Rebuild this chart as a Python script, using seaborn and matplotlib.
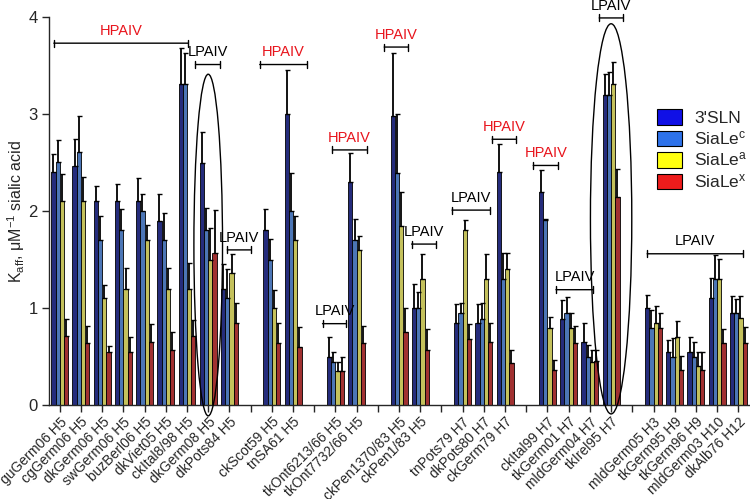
import numpy as np
import pandas as pd
import matplotlib
matplotlib.use("Agg")
import matplotlib.pyplot as plt
from matplotlib.patches import Ellipse, Patch
import seaborn as sns

# ---------------- data ----------------
strains = ["guGerm06 H5", "cgGerm06 H5", "dkGerm06 H5", "swGerm06 H5", "buzBerl06 H5",
           "dkViet05 H5", "ckItal8/98 H5", "dkGerm08 H5", "dkPots84 H5", "",
           "ckScot59 H5", "tnSA61 H5", "", "tkOnt6213/66 H5", "tkOnt7732/66 H5", "",
           "ckPen1370/83 H5", "ckPen1/83 H5", "", "tnPots79 H7", "dkPots80 H7", "ckGerm79 H7", "",
           "ckItal99 H7", "tkGerm01 H7", "mldGerm04 H7", "tkIrel95 H7", "",
           "mldGerm05 H3", "tkGerm95 H9", "tkGerm96 H9", "mldGerm03 H10", "dkAlb76 H12"]

glycans = ["3'SLN", "SiaLe$^{\\mathrm{c}}$", "SiaLe$^{\\mathrm{a}}$", "SiaLe$^{\\mathrm{x}}$"]

# mean values (None for spacer positions)
sln3 = [2.40, 2.46, 2.10, 2.10, 2.10, 1.90, 3.31, 2.50, 1.20, None,
        1.80, 3.00, None, 0.50, 2.30, None, 2.98, 1.00, None, 0.85, 0.85, 2.40, None,
        2.20, 0.89, 0.65, 3.20, None, 1.00, 0.55, 0.55, 1.10, 0.95]
sialec = [2.51, 2.61, 1.70, 1.80, 2.00, 1.70, 3.31, 1.80, 1.10, None,
          1.50, 2.00, None, 0.45, 1.70, None, 2.39, 1.00, None, 0.95, 0.89, 1.30, None,
          1.91, 0.95, 0.50, 3.20, None, 0.80, 0.50, 0.50, 1.30, 0.95]
sialea = [2.10, 2.10, 1.10, 1.20, 1.70, 1.20, 1.20, 1.50, 1.36, None,
          1.00, 1.70, None, 0.35, 1.60, None, 1.85, 1.30, None, 1.80, 1.30, 1.40, None,
          0.80, 0.80, 0.45, 3.31, None, 0.85, 0.70, 0.40, 1.30, 0.90]
sialex = [0.71, 0.64, 0.55, 0.55, 0.65, 0.57, 0.71, 1.57, 0.85, None,
          0.64, 0.60, None, 0.35, 0.64, None, 0.75, 0.57, None, 0.68, 0.65, 0.43, None,
          0.36, 0.64, 0.46, 2.14, None, 0.80, 0.36, 0.36, 0.64, 0.64]

# upper ends of the error bars
sln3_hi = [2.59, 2.74, 2.26, 2.28, 2.34, 2.18, 3.68, 2.81, 1.45, None,
           2.02, 3.45, None, 0.70, 2.60, None, 3.63, 1.25, None, 1.04, 1.04, 2.69, None,
           2.42, 1.08, 0.85, 3.41, None, 1.14, 0.67, 0.70, 1.31, 1.12]
sialec_hi = [2.73, 2.98, 1.95, 2.02, 2.18, 1.98, 3.63, 2.03, 1.40, None,
             1.71, 2.39, None, 0.55, 1.92, None, 3.00, 1.17, None, 1.05, 1.05, 1.57, None,
             1.92, 1.11, 0.62, 3.43, None, 0.98, 0.69, 0.65, 1.55, 1.09]
sialea_hi = [2.38, 2.35, 1.24, 1.41, 1.86, 1.41, 1.46, 1.83, 1.56, None,
             1.19, 1.95, None, 0.45, 1.74, None, 2.20, 1.56, None, 1.91, 1.56, 1.57, None,
             0.91, 0.95, 0.57, 3.54, None, 1.02, 0.87, 0.55, 1.51, 1.13]
sialex_hi = [0.89, 0.82, 0.61, 0.70, 0.84, 0.75, 0.88, 2.01, 1.05, None,
             0.85, 0.81, None, 0.50, 0.82, None, 1.00, 0.78, None, 0.84, 0.85, 0.57, None,
             0.47, 0.82, 0.57, 2.43, None, 0.95, 0.51, 0.55, 0.78, 0.81]

# pathotype brackets: (label, start, end, height)
brackets = [("HPAIV", -0.28, 6.04, 3.73), ("LPAIV", 6.40, 7.55, 3.51),
            ("LPAIV", 7.90, 9.00, 1.60), ("HPAIV", 9.43, 11.67, 3.51),
            ("LPAIV", 12.39, 13.52, 0.84), ("HPAIV", 12.86, 14.47, 2.63),
            ("HPAIV", 15.30, 16.43, 3.69), ("LPAIV", 16.59, 17.74, 1.66),
            ("LPAIV", 18.50, 20.30, 2.01), ("HPAIV", 20.39, 21.50, 2.74),
            ("HPAIV", 22.33, 23.50, 2.47), ("LPAIV", 23.40, 25.16, 1.19),
            ("LPAIV", 25.44, 26.57, 3.99), ("LPAIV", 27.70, 32.23, 1.56)]
# highlight ellipses: (x centre, y centre, width, height)
ellipses = [(7.0, 1.65, 1.35, 3.52), (26.0, 1.92, 1.95, 4.02)]

bar_colors = ["#16208a", "#3a72c8", "#d6d24a", "#b41e1e"]
legend_colors = ["#1010e6", "#2e72ea", "#ffff10", "#ee1c1c"]

# ---------------- table ----------------
order = [s if s else " " * (i + 1) for i, s in enumerate(strains)]
rows = []
for g, vals, his in zip(glycans, [sln3, sialec, sialea, sialex],
                        [sln3_hi, sialec_hi, sialea_hi, sialex_hi]):
    for cat, v, h in zip(order, vals, his):
        if v is not None:
            rows.append({"strain": cat, "glycan": g, "value": v, "hi": h})
df = pd.DataFrame(rows)
hi_lookup = {(r.strain, r.glycan): r.hi for r in df.itertuples()}

# ---------------- plot ----------------
sns.set_style("ticks")
plt.rcParams["font.family"] = ["Liberation Sans", "DejaVu Sans"]
plt.rcParams["mathtext.fontset"] = "custom"
plt.rcParams["mathtext.rm"] = "Liberation Sans"
plt.rcParams["mathtext.it"] = "Liberation Sans:italic"

fig = plt.figure(figsize=(7.5, 4.99), dpi=100)
ax = fig.add_axes([0.065, 0.188, 0.935, 0.778])

sns.barplot(data=df, x="strain", y="value", hue="glycan", order=order,
            hue_order=glycans, palette=bar_colors, errorbar=None, width=0.8,
            edgecolor="black", linewidth=0.6, ax=ax, legend=False)

# error bars (upward only)
bar_containers = list(ax.containers)
for gi, cont in enumerate(bar_containers):
    g = glycans[gi]
    for bar in cont:
        xc = bar.get_x() + bar.get_width() / 2
        cat = order[int(round(xc))]
        top = bar.get_height()
        hi = hi_lookup[(cat, g)]
        ax.errorbar(xc, top, yerr=[[0], [hi - top]], fmt="none", ecolor="black",
                    elinewidth=1.3, capsize=1.8, capthick=1.0, zorder=3)

# brackets
for lab, x0, x1, y in brackets:
    col = "#e8141c" if lab == "HPAIV" else "black"
    ax.annotate("", xy=(x0, y), xytext=(x1, y), annotation_clip=False,
                arrowprops=dict(arrowstyle="|-|, widthA=0.25, widthB=0.25",
                                color="black", lw=1.0, shrinkA=0, shrinkB=0))
    ax.text((x0 + x1) / 2, y + 0.055, lab, color=col, fontsize=10.5,
            ha="center", va="bottom", clip_on=False)

for xc, yc, w, h in ellipses:
    ax.add_patch(Ellipse((xc, yc), w, h, fill=False, edgecolor="black",
                         lw=1.0, clip_on=False, zorder=4))

ax.set_xlim(-0.52, 32.55)
ax.set_ylim(0, 4)
ax.set_yticks([0, 1, 2, 3, 4])
ax.tick_params(axis="y", labelsize=12, length=5, width=1.0, pad=3)
ax.tick_params(axis="x", length=5, width=1.0, labelsize=10, pad=2)
ax.set_xticks(range(len(order)))
ax.set_xticklabels(strains, rotation=45, ha="right", rotation_mode="anchor")
ax.set_xlabel("")
ax.set_ylabel("K$_{\\mathrm{aff}}$, μM$^{\\mathrm{-1}}$ sialic acid", fontsize=11.5)
ax.yaxis.set_label_coords(-0.031, 0.5)
for s in ["top", "right"]:
    ax.spines[s].set_visible(False)
ax.spines["left"].set_linewidth(1.0)
ax.spines["bottom"].set_linewidth(1.0)

handles = [Patch(facecolor=c, edgecolor="black", linewidth=0.8) for c in legend_colors]
ax.legend(handles, glycans, loc="upper left", bbox_to_anchor=(0.855, 0.785),
          frameon=False, fontsize=12.5, handlelength=1.45, handleheight=1.0,
          labelspacing=0.2, handletextpad=0.7, borderpad=0)

fig.savefig("out.png", dpi=100)
